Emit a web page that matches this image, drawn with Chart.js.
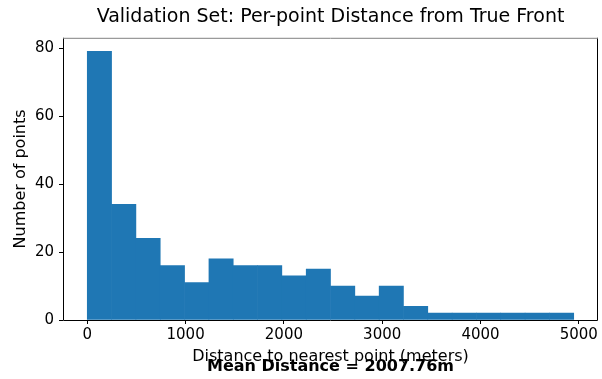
<!DOCTYPE html>
<html>
<head>
<meta charset="utf-8">
<script src="https://cdn.jsdelivr.net/npm/chart.js@4"></script>
<style>
  html, body { margin: 0; padding: 0; background: #fff; }
  #wrap { width: 602px; height: 379px; }
</style>
</head>
<body>
<div id="wrap"><canvas id="histChart" width="602" height="379"></canvas></div>
<script>
// histogram bins (meters) and counts
const binEdges = [0, 247, 495, 742, 990, 1237, 1485, 1732, 1979, 2227, 2474,
                  2722, 2969, 3216, 3464, 3711, 3959, 4206, 4453, 4701, 4948];
const counts = [79, 34, 24, 16, 11, 18, 16, 16, 13, 15, 10, 7, 10, 4, 2, 2, 2, 2, 2, 2];
const xTicks = [0, 1000, 2000, 3000, 4000, 5000];
const yTicks = [0, 20, 40, 60, 80];
const meanText = 'Mean Distance = 2007.76m';

const FONT = "'DejaVu Sans', sans-serif";

const points = counts.map((c, i) => ({ x: (binEdges[i] + binEdges[i + 1]) / 2, y: c }));

// box around plot + the bold mean label below the x title
const extras = {
    id: 'extras',
    afterDraw(chart) {
        const { ctx, chartArea: a } = chart;
        ctx.save();
        ctx.lineWidth = 1;
        ctx.strokeStyle = '#000';
        ctx.beginPath();
        ctx.moveTo(a.left + 0.5, a.top);
        ctx.lineTo(a.left + 0.5, a.bottom + 0.5);
        ctx.lineTo(a.right - 0.5, a.bottom + 0.5);
        ctx.lineTo(a.right - 0.5, a.top);
        ctx.stroke();
        ctx.strokeStyle = '#808080';
        ctx.beginPath();
        ctx.moveTo(a.left, a.top + 0.5);
        ctx.lineTo(a.right, a.top + 0.5);
        ctx.stroke();
        ctx.fillStyle = '#000';
        ctx.font = `bold 16px ${FONT}`;
        ctx.textAlign = 'center';
        ctx.textBaseline = 'middle';
        ctx.fillText(meanText, (a.left + a.right) / 2, 367);
        ctx.restore();
    }
};

new Chart(document.getElementById('histChart').getContext('2d'), {
    type: 'bar',
    data: {
        datasets: [{
            label: 'Distance',
            data: points,
            backgroundColor: '#1f77b4',
            borderWidth: 0,
            barPercentage: 1,
            categoryPercentage: 1
        }]
    },
    options: {
        responsive: false,
        animation: false,
        layout: { padding: { left: 0, right: 4, top: 0, bottom: 0 } },
        plugins: {
            legend: { display: false },
            tooltip: { enabled: false },
            title: {
                display: true,
                fullSize: false,
                text: 'Validation Set: Per-point Distance from True Front',
                color: '#000',
                font: { family: FONT, size: 19, weight: 'normal' },
                padding: { top: 6, bottom: 9 }
            }
        },
        scales: {
            x: {
                type: 'linear',
                offset: false,
                min: -247,
                max: 5195,
                afterFit: (s) => { s.height = 59; },
                afterBuildTicks: (s) => { s.ticks = xTicks.map(v => ({ value: v })); },
                ticks: {
                    color: '#000', font: { family: FONT, size: 15 }, padding: 2, maxRotation: 0,
                    callback: (v) => String(v)
                },
                grid: { display: true, offset: false, drawOnChartArea: false, color: '#000', tickLength: 4 },
                border: { display: false },
                title: {
                    display: true,
                    text: 'Distance to nearest point (meters)',
                    color: '#000',
                    font: { family: FONT, size: 16 },
                    padding: { top: 0, bottom: 13 }
                }
            },
            y: {
                min: 0,
                max: 83,
                afterFit: (s) => { s.width = 63; },
                afterBuildTicks: (s) => { s.ticks = yTicks.map(v => ({ value: v })); },
                ticks: { color: '#000', font: { family: FONT, size: 15 }, padding: 5 },
                grid: { display: true, drawOnChartArea: false, color: '#000', tickLength: 4 },
                border: { display: false },
                title: {
                    display: true,
                    text: 'Number of points',
                    color: '#000',
                    font: { family: FONT, size: 16 },
                    padding: { top: 11, bottom: 0 }
                }
            }
        }
    },
    plugins: [extras]
});
</script>
</body>
</html>
